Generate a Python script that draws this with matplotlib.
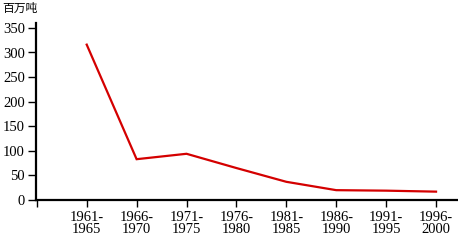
import matplotlib
matplotlib.use("Agg")
import matplotlib.pyplot as plt

plt.rcParams["font.family"] = ["Liberation Serif", "Noto Sans CJK SC"]

periods = ["1961-\n1965", "1966-\n1970", "1971-\n1975", "1976-\n1980",
           "1981-\n1985", "1986-\n1990", "1991-\n1995", "1996-\n2000"]
values = [316, 83, 94, 65, 37, 20, 19, 17]
yticks = [0, 50, 100, 150, 200, 250, 300, 350]

fig = plt.figure(figsize=(4.58, 2.43), dpi=100)
ax = fig.add_axes([36 / 458, 43 / 243, 422 / 458, 177 / 243])

x = list(range(len(values)))
ax.plot(x, values, color="#d40000", linewidth=1.6, solid_joinstyle="miter")

ax.set_xlim(-1.016, 7.44)
ax.set_ylim(0, 360)
ax.set_xticks([-1] + x)
ax.set_xticklabels([""] + periods, fontsize=10.5, linespacing=0.9)
ax.set_yticks(yticks)
ax.set_yticklabels([str(v) for v in yticks], fontsize=10.5)

for side in ("top", "right"):
    ax.spines[side].set_visible(False)
for side in ("left", "bottom"):
    ax.spines[side].set_linewidth(1.6)
ax.tick_params(axis="y", direction="out", length=6, width=1, pad=2)
ax.tick_params(axis="x", direction="out", length=5, width=1, pad=3)

fig.text(2 / 458, 1 - 2 / 243, "百万吨", fontsize=8.5, va="top", ha="left",
         family=["Noto Sans CJK SC", "DejaVu Sans"])

fig.savefig("out.png", dpi=100)
